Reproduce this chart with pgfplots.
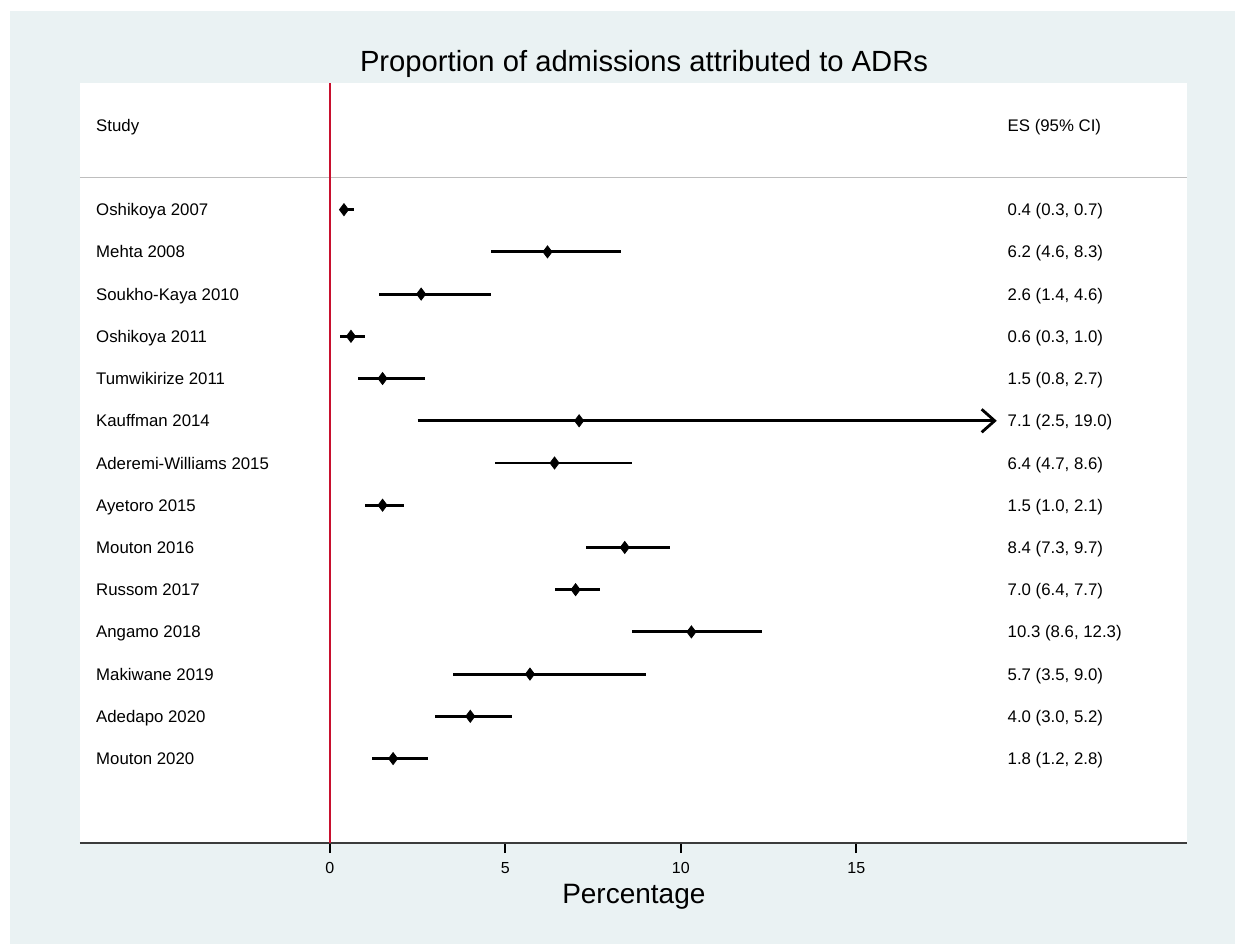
\documentclass[border=0pt]{standalone}
\usepackage{fontspec}
\setmainfont{Liberation Sans}
\usepackage{pgfplots}
\usepackage{pgfplotstable}
\pgfplotsset{compat=1.18}
\usetikzlibrary{arrows.meta}
\definecolor{bgblue}{RGB}{234,242,243}
\definecolor{stred}{RGB}{200,16,46}
\definecolor{axgray}{RGB}{60,60,60}
\definecolor{sepgray}{RGB}{190,190,190}

\pgfplotstableread{
y es lo hi em ep
-1 0.4 0.3 0.7 0.1 0.3
-2 6.2 4.6 8.3 1.6 2.1
-3 2.6 1.4 4.6 1.2 2.0
-4 0.6 0.3 1.0 0.3 0.4
-5 1.5 0.8 2.7 0.7 1.2
-7 6.4 4.7 8.6 1.7 2.2
-8 1.5 1.0 2.1 0.5 0.6
-9 8.4 7.3 9.7 1.1 1.3
-10 7.0 6.4 7.7 0.6 0.7
-11 10.3 8.6 12.3 1.7 2.0
-12 5.7 3.5 9.0 2.2 3.3
-13 4.0 3.0 5.2 1.0 1.2
-14 1.8 1.2 2.8 0.6 1.0
}\cis

% Kauffman 2014: estimate and CI ends
\pgfplotstableread{
y es
-6 7.1
}\kauff
\pgfplotstableread{
x y
2.5 -6
19.0 -6
}\kaufci

\begin{document}
\begin{tikzpicture}
\fill[white] (-40pt,-50.5pt) rectangle (577.5pt,421.5pt);
\fill[bgblue] (-35pt,-50.5pt) rectangle (577.5pt,416pt);
\begin{axis}[
  at={(0,0)}, anchor=south west,
  scale only axis, width=553.5pt, height=380pt,
  xmin=-7.12, xmax=24.42, ymin=-16, ymax=2,
  axis x line*=bottom, axis y line=none,
  axis background/.style={fill=white},
  axis line style={axgray, line width=1.3pt},
  xtick={0,5,10,15}, ytick=\empty,
  tick align=outside, major tick length=5pt,
  tick style={black, line width=1pt},
  xticklabel style={font=\fontsize{8}{9}\selectfont, yshift=-1pt},
  /pgf/number format/assume math mode=true,
  clip=false,
]
% separator and reference line
\draw[sepgray, line width=0.8pt] (axis cs:-7.12,-0.24) -- (axis cs:24.42,-0.24);
\draw[stred, line width=1.2pt] (axis cs:0,2) -- (axis cs:0,-16);

% CI lines and point estimates
\addplot[only marks, mark=diamond*, mark size=3pt, black,
  error bars/.cd, x dir=both, x explicit, error mark=none,
  error bar style={line width=1.4pt, black}]
  table[x=es, y=y, x error minus=em, x error plus=ep] {\cis};
\addplot[black, line width=1.4pt, -{Straight Barb[length=6.5pt,width=11.5pt]}]
  table[x=x, y=y] {\kaufci};
\addplot[only marks, mark=diamond*, mark size=3pt, black]
  table[x=es, y=y] {\kauff};

\begin{scope}[every node/.style={anchor=base west, inner xsep=0pt, yshift=-3pt, font=\fontsize{8.4}{10}\selectfont}]
% headers
\node at (axis cs:-6.67,1) {Study};
\node at (axis cs:19.3,1) {ES (95\% CI)};
% study labels
\node at (axis cs:-6.67,-1) {Oshikoya 2007};
\node at (axis cs:-6.67,-2) {Mehta 2008};
\node at (axis cs:-6.67,-3) {Soukho-Kaya 2010};
\node at (axis cs:-6.67,-4) {Oshikoya 2011};
\node at (axis cs:-6.67,-5) {Tumwikirize 2011};
\node at (axis cs:-6.67,-6) {Kauffman 2014};
\node at (axis cs:-6.67,-7) {Aderemi-Williams 2015};
\node at (axis cs:-6.67,-8) {Ayetoro 2015};
\node at (axis cs:-6.67,-9) {Mouton 2016};
\node at (axis cs:-6.67,-10) {Russom 2017};
\node at (axis cs:-6.67,-11) {Angamo 2018};
\node at (axis cs:-6.67,-12) {Makiwane 2019};
\node at (axis cs:-6.67,-13) {Adedapo 2020};
\node at (axis cs:-6.67,-14) {Mouton 2020};
\node at (axis cs:19.3,-1) {0.4 (0.3, 0.7)};
\node at (axis cs:19.3,-2) {6.2 (4.6, 8.3)};
\node at (axis cs:19.3,-3) {2.6 (1.4, 4.6)};
\node at (axis cs:19.3,-4) {0.6 (0.3, 1.0)};
\node at (axis cs:19.3,-5) {1.5 (0.8, 2.7)};
\node at (axis cs:19.3,-6) {7.1 (2.5, 19.0)};
\node at (axis cs:19.3,-7) {6.4 (4.7, 8.6)};
\node at (axis cs:19.3,-8) {1.5 (1.0, 2.1)};
\node at (axis cs:19.3,-9) {8.4 (7.3, 9.7)};
\node at (axis cs:19.3,-10) {7.0 (6.4, 7.7)};
\node at (axis cs:19.3,-11) {10.3 (8.6, 12.3)};
\node at (axis cs:19.3,-12) {5.7 (3.5, 9.0)};
\node at (axis cs:19.3,-13) {4.0 (3.0, 5.2)};
\node at (axis cs:19.3,-14) {1.8 (1.2, 2.8)};
\end{scope}

% title and axis title
\node[font=\fontsize{14.6}{17}\selectfont] at (axis cs:8.95,2.44) {Proportion of admissions attributed to ADRs};
\node[font=\fontsize{14}{17}\selectfont] at (axis cs:8.66,-17.27) {Percentage};
\end{axis}
\end{tikzpicture}
\end{document}
